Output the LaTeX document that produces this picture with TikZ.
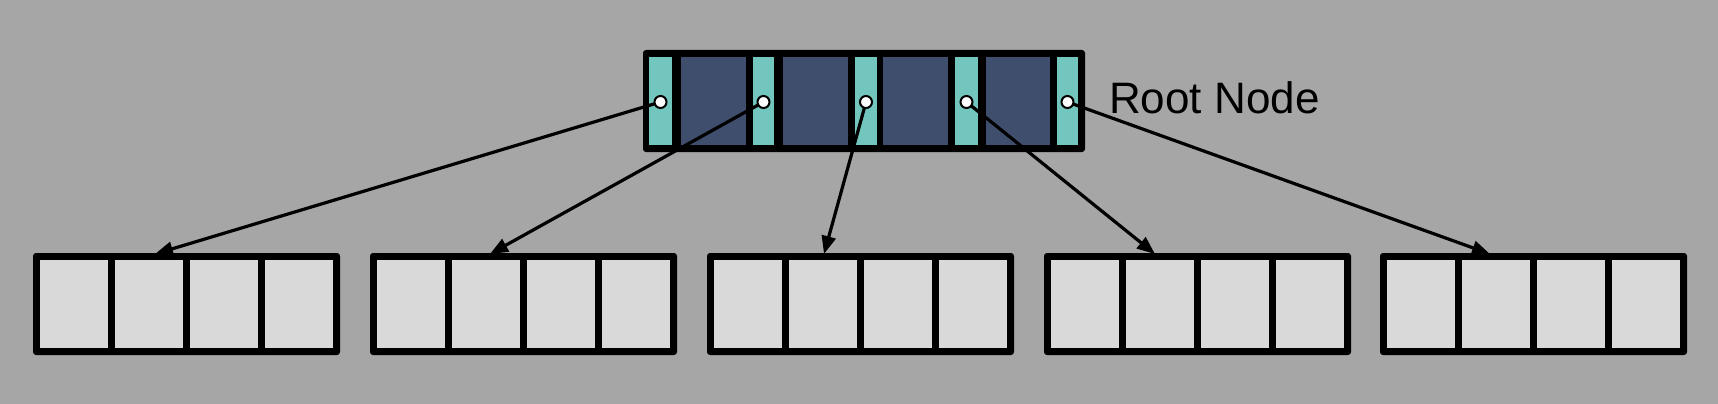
\documentclass[tikz,border=0pt]{standalone}
\usepackage{fontspec}
\setmainfont{Liberation Sans}
\usetikzlibrary{arrows.meta}
\definecolor{bggray}{HTML}{A6A6A6}
\definecolor{cellgray}{HTML}{D9D9D9}
\definecolor{slotteal}{HTML}{72C6BE}
\definecolor{keynavy}{HTML}{404E6E}
\tikzset{
  frame/.style={fill=black, rounded corners=3pt},
  leafcell/.style={fill=cellgray},
  tealslot/.style={fill=slotteal},
  navykey/.style={fill=keynavy},
  ptr/.style={circle, draw=black, fill=white, line width=2pt, minimum size=12pt, inner sep=0pt},
  link/.style={line width=3.2pt, -{Triangle[length=18pt,width=14pt]}, shorten <=-1pt},
  label/.style={font=\fontsize{44}{52}\selectfont, inner sep=0pt, anchor=base west}
}
\begin{document}
\begin{tikzpicture}[x=1pt,y=-1pt]
\fill[bggray] (0,0) rectangle (1718,404);
\useasboundingbox (0,0) rectangle (1718,404);
% root node
\fill[frame] (643,50) rectangle (1085,152);
\foreach \a/\b in {649/672,753/774,855/877,955/978,1057/1078}
  \fill[tealslot] (\a,57) rectangle (\b,145);
\foreach \a/\b in {681/746,783/848,883/948,986/1050}
  \fill[navykey] (\a,57) rectangle (\b,145);
\node[label] (rootlabel) at (1109,113) {Root Node};
% leaf nodes
\foreach \i/\L in {1/33,2/370,3/707,4/1044,5/1380}{
  \fill[frame] (\L,253) rectangle ({\L+307},355);
  \foreach \k in {0,1,2,3}
    \fill[leafcell] ({\L+7+75*\k},260) rectangle ({\L+75+75*\k},348);
}
% pointers
\node[ptr] (p1) at (660.5,102) {};
\node[ptr] (p2) at (763.5,102) {};
\node[ptr] (p3) at (866,102) {};
\node[ptr] (p4) at (966.5,102) {};
\node[ptr] (p5) at (1067.5,102) {};
\coordinate (t1) at (155,254);
\coordinate (t2) at (490,254);
\coordinate (t3) at (824,254);
\coordinate (t4) at (1155,254);
\coordinate (t5) at (1490,254);
\foreach \i in {1,...,5}
  \draw[link] (p\i) -- (t\i);
\end{tikzpicture}
\end{document}
